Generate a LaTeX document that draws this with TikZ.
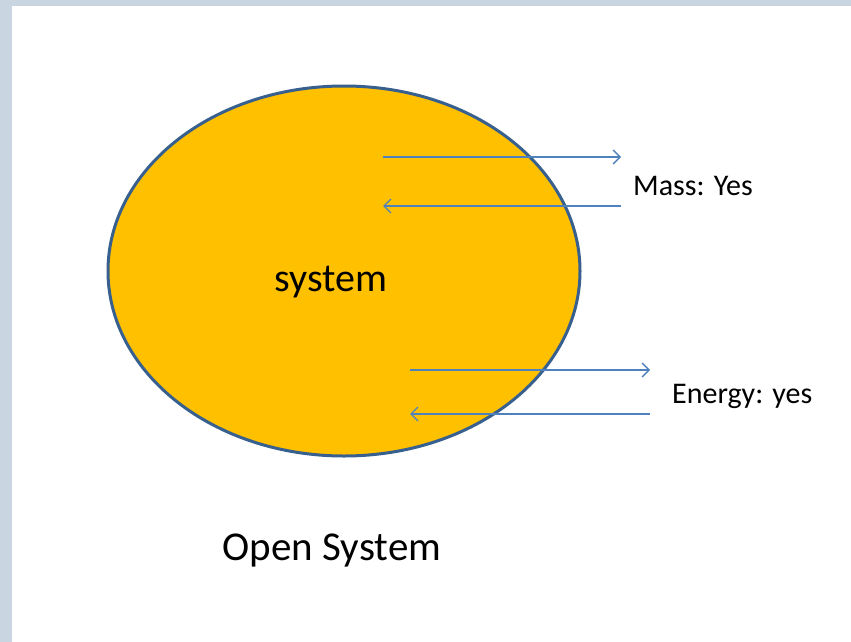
\documentclass[tikz,border=0pt]{standalone}
\usepackage{fontspec}
\setmainfont{Carlito}
\usetikzlibrary{arrows.meta,shapes.geometric}
\definecolor{gold}{HTML}{FFC000}
\definecolor{rim}{HTML}{38608F}
\definecolor{arrowblue}{HTML}{4F81BD}
\definecolor{frame}{HTML}{C9D6E1}
\tikzset{
  flow/.style={draw=arrowblue, line width=1.6pt, -{Straight Barb[length=7pt,width=14pt,line width=1.3pt]}},
  lbl/.style={font=\fontsize{30}{34}\selectfont, text=black, inner sep=0pt, anchor=west},
}
\begin{document}
\begin{tikzpicture}[x=1pt,y=-1pt]
\useasboundingbox (0,0) rectangle (851,642);
\fill[frame] (0,0) rectangle (851,642);
\fill[white] (12,6) rectangle (851,642);
\node[ellipse, draw=rim, line width=3pt, fill=gold, minimum width=472pt, minimum height=370pt, inner sep=0pt] (sys) at (344,271) {};
\node[font=\fontsize{40}{44}\selectfont, inner sep=0pt] (systxt) at (331,282) {system};
\coordinate (m1a) at (383,157); \coordinate (m1b) at (621,157);
\coordinate (m2a) at (621,206); \coordinate (m2b) at (383,206);
\coordinate (e1a) at (410,370); \coordinate (e1b) at (650,370);
\coordinate (e2a) at (650,414); \coordinate (e2b) at (410,414);
\draw[flow] (m1a) -- (m1b);
\draw[flow] (m2a) -- (m2b);
\draw[flow] (e1a) -- (e1b);
\draw[flow] (e2a) -- (e2b);
\node[lbl] (mass) at (633,186) {Mass: Yes};
\node[lbl] (energy) at (672,396) {Energy: yes};
\node[font=\fontsize{41}{45}\selectfont, inner sep=0pt] (title) at (332,550) {Open System};
\end{tikzpicture}
\end{document}
